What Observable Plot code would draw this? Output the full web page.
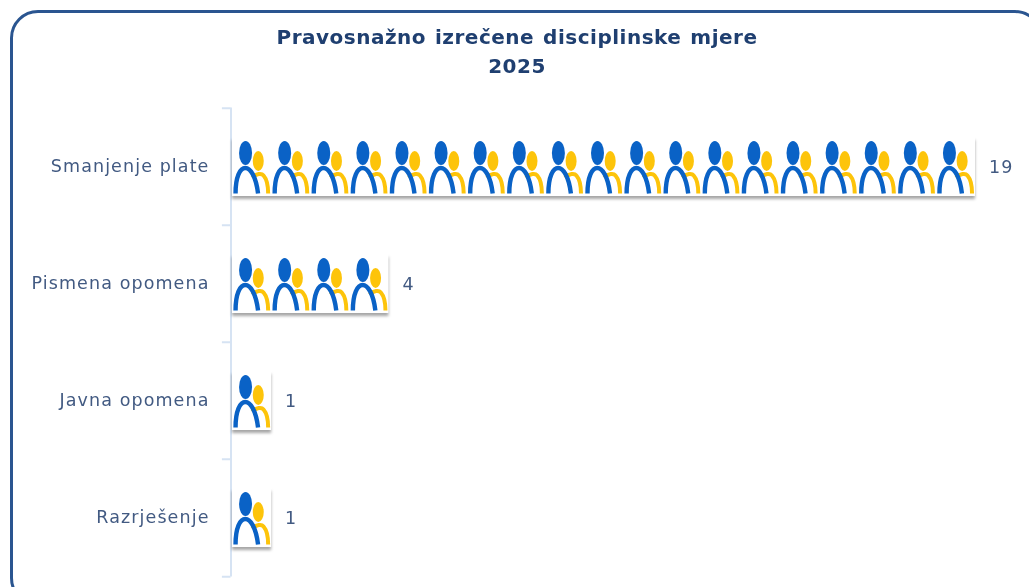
<!DOCTYPE html>
<html><head><meta charset="utf-8">
<script src="https://cdn.jsdelivr.net/npm/d3@7"></script>
<script src="https://cdn.jsdelivr.net/npm/@observablehq/plot@0.6"></script>
<style>
html,body{margin:0;padding:0;background:#fff;overflow:hidden}
#wrap{position:relative;width:1029px;height:587px;overflow:hidden;font-family:"DejaVu Sans",sans-serif;filter:blur(0.35px)}
#frame{position:absolute;left:10px;top:10px;width:1033px;height:596px;border:3px solid #2a5590;border-radius:28px;box-sizing:border-box;pointer-events:none}
#title{position:absolute;left:0;top:23px;width:1034px;text-align:center;color:#1f3f70;font-weight:bold;font-size:20px;line-height:29px;letter-spacing:.5px;word-spacing:1.5px}
svg{position:absolute;left:0;top:0;background:transparent}
</style></head><body>
<div id="wrap"><div id="frame"></div><div id="title">Pravosnažno izrečene disciplinske mjere<br>2025</div></div>
<script>
const categories = ["Smanjenje plate","Pismena opomena","Javna opomena","Razrješenje"];
const values = [19,4,1,1];
const textColor = "#425a82";
const axisColor = "#d6e3f3";
const blue = "#0a62c6", yellow = "#fdc40a";

const table = categories.map((c,i)=>({category:c,value:values[i]}));
const units = table.flatMap(d=>d3.range(d.value).map(u=>({category:d.category,u:u+0.5})));

const iconSvg = `<svg xmlns="http://www.w3.org/2000/svg" width="39" height="58" viewBox="0 0 39 58">
<ellipse cx="13" cy="15" rx="6.5" ry="12" fill="${blue}"/>
<ellipse cx="25.7" cy="23" rx="5.5" ry="10" fill="${yellow}"/>
<path d="M19.5 39.5C24 35.5 29 35 31 37.5C34 41 35.6 47 35.6 55.5" fill="none" stroke="${yellow}" stroke-width="4"/>
<path d="M3 55.5C3 21.5 21.5 21.5 25.5 55.5" fill="none" stroke="${blue}" stroke-width="4.4"/>
</svg>`;
const icon = "data:image/svg+xml;charset=utf-8," + encodeURIComponent(iconSvg);
const shadow = (index,scales,vals,dims,ctx,next)=>{
  const g = next(index,scales,vals,dims,ctx);
  g.style.filter = "drop-shadow(0.5px 3px 1.5px rgba(0,0,0,0.35))";
  return g;
};
const chart = Plot.plot({
  width:1029,height:587,
  marginLeft:232,marginRight:54,marginTop:107,marginBottom:10,
  style:{background:"transparent",fontFamily:'"DejaVu Sans",sans-serif',letterSpacing:"1.1px"},
  x:{domain:[0,19],axis:null},
  y:{domain:categories,paddingInner:0.5,paddingOuter:0.25,label:null,tickSize:0,axis:null},
  marks:[
    Plot.axisY(categories,{anchor:"left",tickSize:0,label:null,tickPadding:23,dy:-0.5,fontSize:17.5,fill:textColor}),
    Plot.tickX(categories,{x:()=>0,y:d=>d,dx:-1.5,insetTop:-29.4,insetBottom:-29.4,stroke:axisColor,strokeWidth:2}),
    Plot.ruleY(categories,{y:d=>d,x1:()=>-0.22,x2:()=>0,dx:-1.5,dy:-58.75,stroke:axisColor,strokeWidth:2}),
    Plot.ruleY(categories.slice(-1),{y:d=>d,x1:()=>-0.22,x2:()=>0,dx:-1.5,dy:58.75,stroke:axisColor,strokeWidth:2}),
    Plot.barX(table,{x:"value",y:"category",fill:"#fff",render:shadow}),
    Plot.image(units,{x:"u",y:"category",src:()=>icon,width:39,height:58,preserveAspectRatio:"none"}),
    Plot.text(table,{x:"value",y:"category",text:d=>String(d.value),dx:13.5,textAnchor:"start",fontSize:17.5,fill:textColor})
  ]
});
document.getElementById("wrap").insertBefore(chart,document.getElementById("frame"));
</script></body></html>
